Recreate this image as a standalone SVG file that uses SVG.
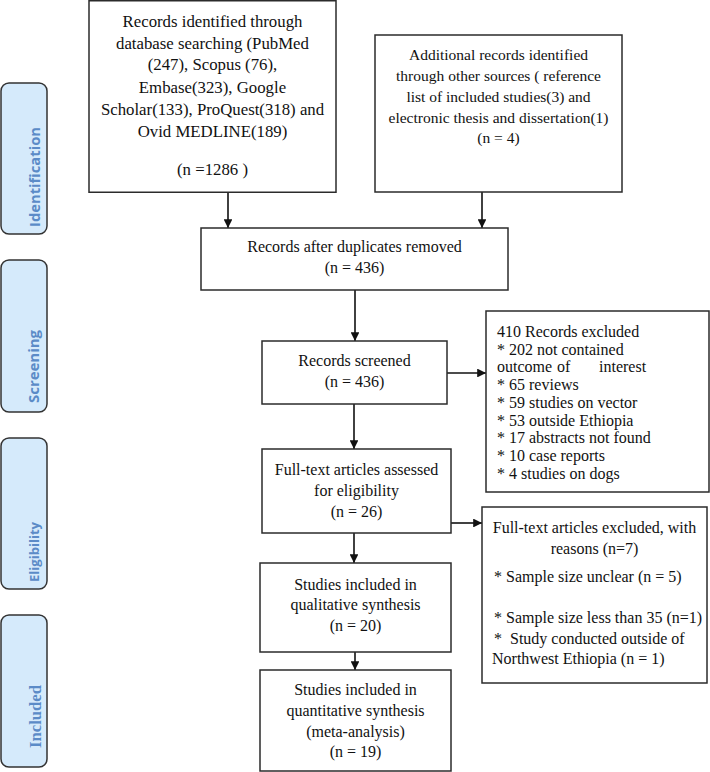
<svg xmlns="http://www.w3.org/2000/svg" width="710" height="772" viewBox="0 0 710 772">
<defs>
<style>
.bg{fill:#ffffff}
.box{fill:#ffffff;stroke:#2b2b2b;stroke-width:1.5}
.t{font-family:"Liberation Serif","Times New Roman",serif;font-size:16px;fill:#111;white-space:pre}
.big{font-size:16.8px}
.sm{font-size:15.5px}
.c{text-anchor:middle}
.lab{fill:#d5eafb;stroke:#333;stroke-width:1.5}
.lt{font-family:"Open Sans","Liberation Sans",sans-serif;font-weight:bold;fill:#5b8bc7}
.ls{font-family:"Liberation Serif","Times New Roman",serif;font-weight:bold;fill:#5b8bc7}
.con{stroke:#111;stroke-width:1.6;fill:none;marker-end:url(#ah)}
</style>
<marker id="ah" viewBox="0 0 10 10" refX="10" refY="5" markerWidth="5.5" markerHeight="5.5" orient="auto" markerUnits="strokeWidth">
<path d="M0,0 L10,5 L0,10 z" fill="#111"/>
</marker>
</defs>
<rect class="bg" x="0" y="0" width="710" height="772"/>

<g id="label-identification">
<rect class="lab" x="1" y="83" width="46" height="151" rx="8"/>
<text class="lt" font-size="14" transform="translate(40,227) rotate(-90)" textLength="100" lengthAdjust="spacingAndGlyphs">Identification</text>
</g>
<g id="label-screening">
<rect class="lab" x="1" y="260" width="46" height="152" rx="8"/>
<text class="lt" font-size="14" transform="translate(39,403) rotate(-90)" textLength="73" lengthAdjust="spacingAndGlyphs">Screening</text>
</g>
<g id="label-eligibility">
<rect class="lab" x="1" y="438" width="46" height="151" rx="8"/>
<text class="lt" font-size="13" transform="translate(39,582) rotate(-90)" textLength="60" lengthAdjust="spacingAndGlyphs">Eligibility</text>
</g>
<g id="label-included">
<rect class="lab" x="1" y="615" width="46" height="152" rx="8"/>
<text class="ls" font-size="17" transform="translate(41,748) rotate(-90)" textLength="63" lengthAdjust="spacingAndGlyphs">Included</text>
</g>

<g id="connectors">
<line class="con" x1="228" y1="192" x2="228" y2="228"/>
<line class="con" x1="482" y1="192" x2="482" y2="228"/>
<line class="con" x1="355" y1="290" x2="355" y2="341"/>
<line class="con" x1="447" y1="373" x2="486" y2="373"/>
<line class="con" x1="354" y1="404" x2="354" y2="449"/>
<line class="con" x1="451" y1="523" x2="482" y2="523"/>
<line class="con" x1="354" y1="533" x2="354" y2="563"/>
<line class="con" x1="355" y1="652" x2="355" y2="670"/>
</g>

<g id="records-identified">
<rect class="box" x="89" y="0.75" width="247" height="191.5"/>
<text class="t big c" x="212.5" y="27">Records identified through</text>
<text class="t big c" x="212.5" y="48.5">database searching (PubMed</text>
<text class="t big c" x="212.5" y="70">(247), Scopus (76),</text>
<text class="t big c" x="212.5" y="92.5">Embase(323), Google</text>
<text class="t big c" x="212.5" y="114.5">Scholar(133), ProQuest(318) and</text>
<text class="t big c" x="212.5" y="136.5">Ovid MEDLINE(189)</text>
<text class="t big c" x="212.5" y="175">(n =1286 )</text>
</g>

<g id="additional-records">
<rect class="box" x="375" y="35" width="247" height="157"/>
<text class="t sm c" x="498.5" y="60">Additional records identified</text>
<text class="t sm c" x="498.5" y="81">through other sources ( reference</text>
<text class="t sm c" x="498.5" y="102">list of included studies(3) and</text>
<text class="t sm c" x="498.5" y="123">electronic thesis and dissertation(1)</text>
<text class="t sm c" x="498.5" y="143">(n = 4)</text>
</g>

<g id="after-duplicates">
<rect class="box" x="201" y="228" width="307" height="62"/>
<text class="t c" x="354.5" y="252">Records after duplicates removed</text>
<text class="t c" x="354.5" y="273">(n = 436)</text>
</g>

<g id="records-screened">
<rect class="box" x="262" y="341" width="185" height="63"/>
<text class="t c" x="354.5" y="366">Records screened</text>
<text class="t c" x="354.5" y="387">(n = 436)</text>
</g>

<g id="records-excluded">
<rect class="box" x="486" y="311" width="223" height="181"/>
<text class="t" x="497" y="337">410 Records excluded</text>
<text class="t" x="497" y="354.5">* 202 not contained</text>
<text class="t" y="372"><tspan x="497">outcome</tspan><tspan x="557">of</tspan><tspan x="599">interest</tspan></text>
<text class="t" x="497" y="390">* 65 reviews</text>
<text class="t" x="497" y="408">* 59 studies on vector</text>
<text class="t" x="497" y="425.5">* 53 outside Ethiopia</text>
<text class="t" x="497" y="443">* 17 abstracts not found</text>
<text class="t" x="497" y="461">* 10 case reports</text>
<text class="t" x="497" y="478.5">* 4 studies on dogs</text>
</g>

<g id="fulltext-assessed">
<rect class="box" x="262" y="449" width="189" height="84"/>
<text class="t c" x="356.5" y="475">Full-text articles assessed</text>
<text class="t c" x="356.5" y="496">for eligibility</text>
<text class="t c" x="356.5" y="517">(n = 26)</text>
</g>

<g id="fulltext-excluded">
<rect class="box" x="482" y="507" width="225" height="176"/>
<text class="t c" x="594.5" y="533">Full-text articles excluded, with</text>
<text class="t c" x="594.5" y="554">reasons (n=7)</text>
<text class="t" x="494" y="582">* Sample size unclear (n = 5)</text>
<text class="t" x="494" y="623">* Sample size less than 35 (n=1)</text>
<text class="t" x="494" y="644">*  Study conducted outside of</text>
<text class="t" x="492" y="664">Northwest Ethiopia (n = 1)</text>
</g>

<g id="qualitative">
<rect class="box" x="260" y="563" width="191" height="89"/>
<text class="t c" x="355.5" y="590">Studies included in</text>
<text class="t c" x="355.5" y="610">qualitative synthesis</text>
<text class="t c" x="355.5" y="631">(n = 20)</text>
</g>

<g id="quantitative">
<rect class="box" x="260" y="670" width="191" height="101"/>
<text class="t c" x="355.5" y="695">Studies included in</text>
<text class="t c" x="355.5" y="716">quantitative synthesis</text>
<text class="t c" x="355.5" y="737">(meta-analysis)</text>
<text class="t c" x="355.5" y="757">(n = 19)</text>
</g>
</svg>
